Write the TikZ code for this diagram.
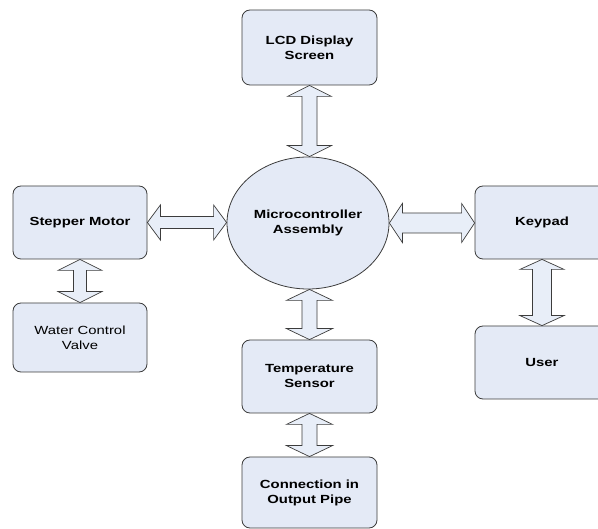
\documentclass[tikz,border=0pt]{standalone}
\usepackage{fontspec}
\setmainfont{Liberation Sans}[FakeStretch=1.26]
\usetikzlibrary{calc}
\definecolor{boxfill}{RGB}{228,234,246}
\definecolor{arrfill}{RGB}{232,238,248}
\definecolor{edge}{RGB}{60,60,60}
\tikzset{
  blk/.style={draw=edge, fill=boxfill, line width=0.8pt, rounded corners=8pt,
    align=center, inner sep=2pt, font=\fontsize{11.8}{15}\selectfont\bfseries},
  oval/.style={draw=edge, fill=boxfill, line width=0.8pt, ellipse,
    align=center, inner sep=0pt, font=\fontsize{11.8}{15}\selectfont\bfseries},
  barrow/.style={draw=edge, fill=arrfill, line width=0.7pt, line join=miter}
}
\usetikzlibrary{shapes.geometric}
% vertical double block arrow: from (#1) above to (#2) below; shaft half #3, head half #4, head length #5
\newcommand\vdarrow[5]{%
  \draw[barrow] let \p1=(#1), \p2=(#2) in
    (\x1,\y1) -- (\x1+#4pt,\y1-#5pt) -- (\x1+#3pt,\y1-#5pt) -- (\x1+#3pt,\y2+#5pt)
    -- (\x1+#4pt,\y2+#5pt) -- (\x1,\y2) -- (\x1-#4pt,\y2+#5pt) -- (\x1-#3pt,\y2+#5pt)
    -- (\x1-#3pt,\y1-#5pt) -- (\x1-#4pt,\y1-#5pt) -- cycle;}
% horizontal double block arrow: from (#1) left to (#2) right
\newcommand\hdarrow[5]{%
  \draw[barrow] let \p1=(#1), \p2=(#2) in
    (\x1,\y1) -- (\x1+#5pt,\y1+#4pt) -- (\x1+#5pt,\y1+#3pt) -- (\x2-#5pt,\y1+#3pt)
    -- (\x2-#5pt,\y1+#4pt) -- (\x2,\y1) -- (\x2-#5pt,\y1-#4pt) -- (\x2-#5pt,\y1-#3pt)
    -- (\x1+#5pt,\y1-#3pt) -- (\x1+#5pt,\y1-#4pt) -- cycle;}
\begin{document}
\begin{tikzpicture}[x=1pt,y=-1pt]
\useasboundingbox (0,0) rectangle (598,529);
\clip (0,0) rectangle (598,529);
\fill[white] (0,0) rectangle (598,529);

\node[blk, minimum width=135pt, minimum height=75pt] (lcd) at (309.5,47.5) {LCD Display\\Screen};
\node[blk, minimum width=134pt, minimum height=73pt] (step) at (80,222.5) {Stepper Motor};
\node[blk, minimum width=134pt, minimum height=69pt, font=\fontsize{11.8}{15}\selectfont] (valve) at (80,337.5) {Water Control\\Valve};
\node[oval, minimum width=162pt, minimum height=132pt] (mcu) at (308,223) {Microcontroller\\Assembly};
\node[blk, minimum width=135pt, minimum height=73pt] (temp) at (309.5,376.5) {Temperature\\Sensor};
\node[blk, minimum width=135pt, minimum height=71pt] (conn) at (309.5,492.5) {Connection in\\Output Pipe};
\node[blk, minimum width=134pt, minimum height=73pt] (key) at (542,222.5) {Keypad};
\node[blk, minimum width=134pt, minimum height=73pt] (user) at (542,362.5) {User};

\vdarrow{lcd.south}{mcu.north}{7.5}{22}{11}
\vdarrow{temp.north |- mcu.south}{temp.north}{7.5}{23}{11}
\vdarrow{temp.south}{conn.north}{7.5}{23}{11}
\vdarrow{step.south}{valve.north}{6.5}{22}{11}
\vdarrow{user.north |- key.south}{user.north}{9.5}{22}{10}
\hdarrow{step.east}{mcu.west}{6}{17.5}{13}
\hdarrow{mcu.east}{key.west}{10}{19.5}{13}
\end{tikzpicture}
\end{document}
